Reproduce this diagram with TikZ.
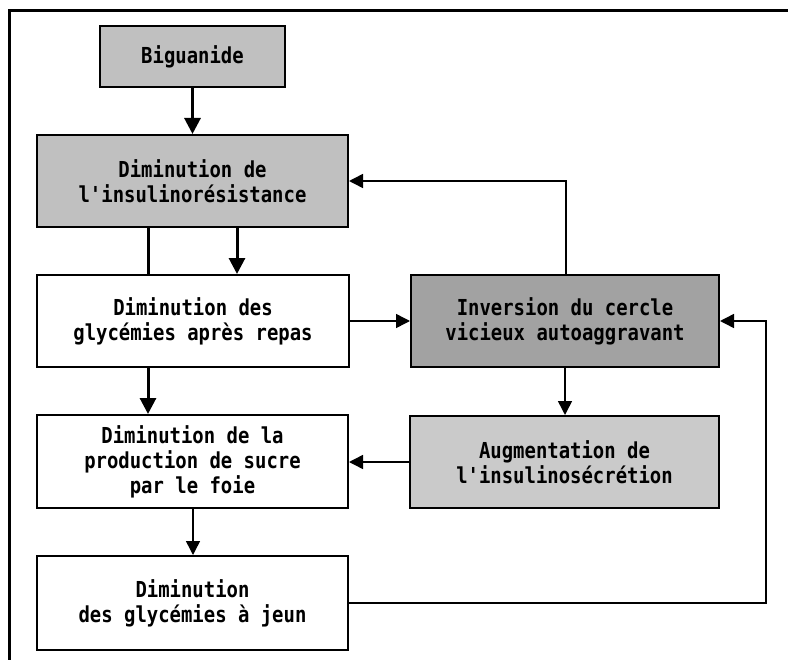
\documentclass[tikz,border=0pt]{standalone}
\usepackage{fontspec}
\newfontfamily\boxfont{DejaVu Sans Mono}[FakeStretch=0.86]
\usetikzlibrary{arrows.meta}
\definecolor{boxlight}{RGB}{192,192,192}
\definecolor{boxdark}{RGB}{162,162,162}
\definecolor{boxpale}{RGB}{202,202,202}
\begin{document}
\begin{tikzpicture}[x=1bp,y=-1bp,
  box/.style={draw=black,line width=2bp,rectangle,align=center,inner sep=0pt,
    font=\boxfont\bfseries\fontsize{22bp}{25bp}\selectfont},
  thick arrow/.style={line width=3bp,-{Triangle[width=16bp,length=16bp]}},
  thick plain/.style={line width=3bp},
  thin arrow/.style={line width=1.5bp,-{Triangle[width=14bp,length=14bp]}},
  thin plain/.style={line width=1.5bp}]
\useasboundingbox (0,0) rectangle (788,660);
% frame
\draw[line width=3bp] (9.5,660) -- (9.5,11) -- (788,11);
% boxes
\node[box,fill=boxlight,minimum width=185bp,minimum height=61bp] (b1) at (192.5,56.5) {Biguanide};
\node[box,fill=boxlight,minimum width=311bp,minimum height=92bp] (b2) at (192.5,181) {Diminution de\\l'insulinorésistance};
\node[box,fill=white,minimum width=312bp,minimum height=92bp] (b3) at (193,321) {Diminution des\\glycémies après repas};
\node[box,fill=boxdark,minimum width=308bp,minimum height=92bp] (b4) at (565,321) {Inversion du cercle\\vicieux autoaggravant};
\node[box,fill=boxpale,minimum width=309bp,minimum height=92bp] (b5) at (564.5,462) {Augmentation de\\l'insulinosécrétion};
\node[box,fill=white,minimum width=311bp,minimum height=93bp] (b6) at (192.5,461.5) {Diminution de la\\production de sucre\\par le foie};
\node[box,fill=white,minimum width=311bp,minimum height=94bp] (b7) at (192.5,603) {Diminution\\des glycémies à jeun};
\coordinate (c1) at (566,181);
\coordinate (c2) at (766,603);
\coordinate (c3) at (766,321);
% connectors
\draw[thick arrow] (b1.south) -- (b2.north);
\draw[thick plain] (148,0 |- b2.south) -- (148,0 |- b3.north);
\draw[thick arrow] (237,0 |- b2.south) -- (237,0 |- b3.north);
\draw[thin arrow] (b3.east) -- (b4.west);
\draw[thin arrow] (566,0 |- b4.north) -- (c1) -- (b2.east |- c1);
\draw[thin arrow] (565,0 |- b4.south) -- (565,0 |- b5.north);
\draw[thin arrow] (b5.west) -- (b6.east |- b5.west);
\draw[thick arrow] (148,0 |- b3.south) -- (148,0 |- b6.north);
\draw[thin arrow] (193,0 |- b6.south) -- (193,0 |- b7.north);
\draw[thin arrow] (b7.east) -- (c2) -- (c3) -- (b4.east);
\end{tikzpicture}
\end{document}
